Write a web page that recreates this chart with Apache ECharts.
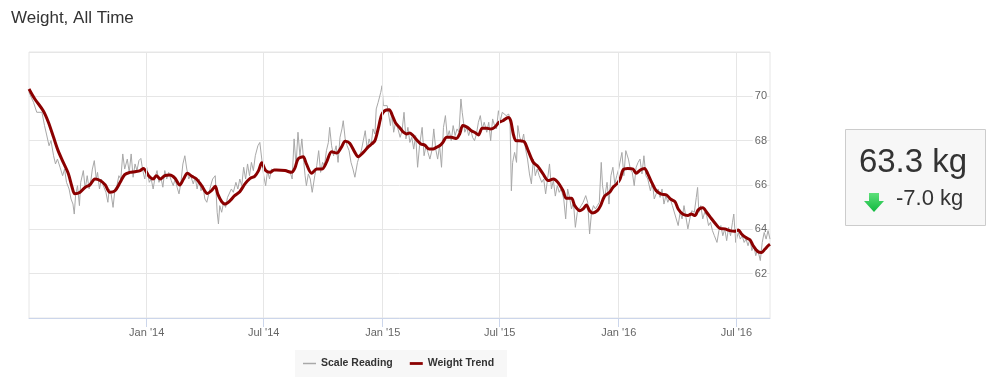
<!DOCTYPE html>
<html>
<head>
<meta charset="utf-8">
<script src="https://cdn.jsdelivr.net/npm/echarts@6/dist/echarts.min.js"></script>
<style>
html,body{margin:0;padding:0;background:#fff;}
#chart{width:998px;height:381px;}
</style>
</head>
<body>
<div id="chart"></div>
<script>
// Day offsets are counted from this date (UTC)
const startDate = '2013-07-01';

const trendDays = [2,11,24,32,40,47,55,63,68,73,81,89,96,104,112,120,127,135,143,150,158,166,174,179,187,194,199,205,212,220,228,235,241,247,254,261,269,278,284,290,294,300,305,313,320,328,336,344,351,357,362,368,375,381,385,398,408,413,418,426,431,439,447,455,462,470,478,485,491,498,506,511,519,527,532,537,542,547,552,559,564,569,576,581,586,591,596,601,608,614,621,627,632,637,642,648,655,663,668,673,680,686,691,697,703,710,716,722,729,735,743,747,751,755,760,768,774,782,789,797,805,813,820,828,833,841,846,854,859,864,869,874,881,886,892,900,905,911,916,921,928,936,941,948,954,959,965,972,980,988,994,1001,1006,1013,1021,1026,1032,1037,1044,1050,1057,1064,1070,1078,1086,1093,1099,1104,1110,1117,1122,1129,1135,1140,1145,1148];
const trendValues = [70.33,69.88,69.35,68.83,68.15,67.55,67.02,66.5,65.97,65.6,65.67,65.9,66.0,66.27,66.2,66.0,65.67,65.74,66.12,66.47,66.57,66.6,66.65,66.75,66.42,66.27,66.42,66.27,66.42,66.45,66.3,66.0,66.27,66.53,66.39,66.27,65.97,65.62,65.74,65.94,65.59,65.25,65.14,65.29,65.52,65.7,66.05,66.3,66.39,66.65,67.0,66.65,66.57,66.68,66.68,66.65,66.57,66.75,67.17,67.28,66.95,66.53,66.72,66.72,67.02,67.5,67.44,67.7,67.97,67.88,67.47,67.28,67.47,67.73,67.85,68.0,68.53,69.13,69.35,69.4,69.13,68.8,68.56,68.38,68.3,68.35,68.23,68.05,67.85,67.8,67.62,67.62,67.7,67.77,67.92,68.15,68.15,68.1,68.3,68.68,68.6,68.45,68.38,68.26,68.56,68.56,68.53,68.6,68.83,68.9,69.05,68.9,68.3,68.0,68.0,67.95,67.55,67.02,66.84,66.5,66.2,66.27,66.12,65.74,65.4,65.4,65.07,64.84,64.92,65.1,64.84,64.74,64.84,65.07,65.49,65.67,65.89,66.05,66.27,66.69,66.75,66.72,66.53,66.69,66.75,66.5,66.12,65.74,65.59,65.55,65.37,65.25,64.92,64.69,64.62,64.69,64.62,64.88,64.97,64.77,64.5,64.24,64.05,64.02,63.94,63.91,63.97,63.79,63.64,63.53,63.26,63.0,62.96,63.1,63.26,63.33];

const readingDays = [2,9,14,22,26,29,33,36,40,43,46,50,54,57,60,64,67,70,72,74,77,80,82,86,89,92,95,98,100,103,106,108,111,114,117,121,124,126,129,132,135,138,141,144,147,150,154,157,160,163,166,169,172,175,178,181,184,188,191,194,197,200,203,206,209,212,215,218,222,225,228,231,234,237,240,243,246,249,252,256,259,262,265,268,271,274,277,280,283,286,290,293,295,297,300,303,306,309,312,315,318,322,325,328,331,334,337,340,343,346,349,352,356,359,362,365,368,371,374,377,381,
385,398,406,409,412,415,418,421,424,427,429,431,434,437,440,444,447,450,453,456,459,462,465,467,470,473,477,480,483,486,488,491,494,497,500,503,506,510,513,516,519,522,525,528,531,534,537,539,542,546,548,550,553,556,559,561,563,566,569,572,576,579,582,585,588,591,594,597,600,603,606,610,613,616,619,622,625,628,631,634,637,640,643,646,649,652,655,658,661,664,667,670,672,676,679,682,685,688,691,694,697,700,703,706,710,713,716,719,722,725,728,731,734,737,740,744,746,748,750,753,756,
758,761,764,767,770,773,776,779,782,785,788,791,795,798,801,804,807,810,813,816,819,822,825,829,832,835,838,841,844,847,850,853,856,859,863,866,869,872,875,878,881,884,887,889,892,896,899,902,905,908,911,914,917,919,922,925,929,932,935,938,941,944,947,950,953,956,959,963,966,969,972,975,978,981,984,987,990,993,997,1000,1003,1006,1009,1012,1015,1018,1021,1024,1027,1031,1034,1036,1038,1041,1044,1047,1050,1053,1056,1059,1062,1066,1069,1072,1075,1078,1081,1084,1087,1090,1092,1095,1099,1102,1105,1108,1111,1114,1117,1120,1123,1126,1129,1133,1136,1139,1142,1145,1148];
const readingValues = [70.18,69.73,69.28,69.28,68.68,68.3,67.77,68.0,67.32,66.95,67.17,66.8,66.42,66.72,66.12,65.82,65.37,65.14,64.69,65.52,65.97,65.07,66.12,66.65,65.82,66.42,65.82,66.27,66.72,67.1,66.27,66.57,65.82,66.27,65.97,65.67,65.22,65.82,65.6,64.99,65.82,65.97,66.42,66.27,67.4,66.72,67.17,66.57,67.4,66.35,66.95,66.65,67.1,67.2,66.65,66.27,66.8,66.12,66.27,65.82,66.35,66.65,66.12,66.35,65.9,66.65,66.27,66.57,66.2,65.97,66.27,65.9,65.6,66.12,66.95,67.32,66.72,66.27,66.42,66.05,66.35,65.82,66.27,65.74,65.97,65.37,65.22,65.6,65.97,66.27,66.42,64.77,64.24,65.07,64.77,65.22,64.99,65.44,65.37,65.82,65.67,66.12,65.82,66.27,65.97,66.8,66.27,66.95,66.42,67.02,66.65,67.32,67.77,67.92,67.17,66.42,65.97,66.65,66.27,66.72,66.65,
66.65,66.65,66.57,66.27,68.08,66.87,68.38,67.32,68.08,67.02,66.42,65.97,66.5,66.27,65.67,66.42,66.87,67.55,66.57,67.02,66.87,67.55,67.92,68.6,67.77,67.32,67.77,67.02,68.15,68.53,68.9,68.08,67.77,67.55,67.02,66.72,66.35,67.02,67.32,67.55,68.0,68.45,67.62,68.08,67.77,68.53,68.3,69.43,69.73,70.18,70.48,69.58,69.65,69.58,69.58,68.68,69.28,68.38,68.83,68.6,68.15,68.45,69.28,68.08,68.6,67.92,68.15,67.62,68.23,66.8,67.77,68.6,67.32,67.77,67.47,67.17,67.55,68.53,67.62,67.17,67.77,66.8,68.6,69.13,68.15,68.45,68.0,68.68,68.23,68.53,68.38,69.88,69.28,68.38,68.6,68.23,68.53,68.15,68.0,68.3,68.83,69.13,68.53,68.83,68.38,68.83,68.0,68.98,68.68,68.53,69.35,68.9,69.28,69.28,69.13,69.2,68.83,65.74,67.02,67.47,67.02,
68.68,68.15,67.92,68.3,67.62,67.17,66.5,66.05,67.17,66.42,66.72,66.42,66.12,66.27,65.6,66.27,66.95,65.82,66.2,65.5,65.97,65.67,65.82,65.37,64.47,65.82,65.44,64.92,65.22,64.09,64.77,64.92,65.07,65.22,65.52,65.22,63.79,64.77,65.07,64.92,65.07,65.22,67.02,65.97,65.37,66.12,65.14,66.42,66.8,66.05,66.42,66.72,67.17,67.47,66.42,67.55,67.17,66.72,66.57,65.97,66.8,67.02,67.17,66.5,67.32,66.42,66.27,65.74,66.12,65.37,65.6,65.82,65.44,65.82,65.14,65.52,65.22,65.44,65.07,64.99,64.47,64.17,64.77,64.47,65.07,64.54,64.02,64.47,64.84,64.77,65.44,65.89,64.77,65.07,64.47,64.77,64.62,64.17,64.32,63.94,63.71,63.41,63.94,64.17,63.71,64.02,63.49,64.09,63.71,64.32,64.69,63.41,63.86,63.56,63.71,63.41,63.56,63.26,63.56,63.04,63.26,62.81,63.1,62.59,63.41,63.86,63.56,63.94,63.56];

const yAxisMin = 60, yAxisMax = 72, yAxisStep = 2;
const xTickDates = ['2014-01-01','2014-07-01','2015-01-01','2015-07-01','2016-01-01','2016-07-01'];
const xTickLabels = ["Jan '14","Jul '14","Jan '15","Jul '15","Jan '16","Jul '16"];
const seriesNames = ['Scale Reading', 'Weight Trend'];
const titleText = 'Weight, All Time';
const unit = 'kg';

const DAY = 86400000;
const t0 = Date.parse(startDate);
const toTime = d => t0 + d * DAY;
const readingData = readingDays.map((d, i) => [toTime(d), readingValues[i]]);
const trendData = trendDays.map((d, i) => [toTime(d), trendValues[i]]);
const tickTimes = xTickDates.map(s => Date.parse(s));
const labelFor = v => {
  const i = tickTimes.findIndex(t => Math.abs(t - v) < DAY / 2);
  return i >= 0 ? xTickLabels[i] : '';
};

const latest = trendValues[trendValues.length - 1];
const change = latest - trendValues[0];
const latestText = latest.toFixed(1) + ' ' + unit;
const changeText = (change >= 0 ? '+' : '') + change.toFixed(1) + ' ' + unit;

const FONT = 'Arial, "Liberation Sans", Helvetica, sans-serif';

const chart = echarts.init(document.getElementById('chart'), null, {renderer: 'canvas'});
chart.setOption({
  animation: false,
  backgroundColor: '#ffffff',
  title: {
    text: titleText, left: 6, top: 5,
    textStyle: {fontFamily: FONT, fontSize: 17, fontWeight: 'normal', color: '#333333'}
  },
  legend: {
    left: 295, top: 350,
    backgroundColor: '#f7f7f7',
    padding: [8, 13, 8, 8],
    itemWidth: 13, itemHeight: 10, itemGap: 17,
    textStyle: {fontFamily: FONT, fontSize: 10.5, fontWeight: 'bold', color: '#333333'},
    data: [
      {name: seriesNames[0], icon: 'path://M0,0H13V1.5H0Z', symbolKeepAspect: true},
      {name: seriesNames[1], icon: 'path://M0,0H14V3H0Z', symbolKeepAspect: true}
    ]
  },
  grid: {left: 29, right: 228, top: 52, bottom: 63, show: true, borderColor: '#e6e6e6', borderWidth: 1, containLabel: false},
  xAxis: {
    type: 'value',
    min: toTime(readingDays[0]),
    max: toTime(readingDays[readingDays.length - 1]),
    axisLine: {show: true, lineStyle: {color: '#ccd6eb', width: 1}},
    axisTick: {show: true, length: 9, lineStyle: {color: '#ccd6eb'}, customValues: tickTimes},
    axisLabel: {
      customValues: tickTimes, margin: 9,
      fontFamily: FONT, fontSize: 11, color: '#666666',
      formatter: v => labelFor(v)
    },
    splitLine: {show: false}
  },
  yAxis: {
    type: 'value', position: 'right',
    min: yAxisMin, max: yAxisMax, interval: yAxisStep,
    axisLine: {show: false}, axisTick: {show: false},
    axisLabel: {inside: true, margin: 3, showMinLabel: false, showMaxLabel: false,
      fontFamily: FONT, fontSize: 11, color: '#666666',
      backgroundColor: '#ffffff', padding: [3, 0, 0, 2]},
    splitLine: {show: true, lineStyle: {color: '#e6e6e6', width: 1}}
  },
  series: [
    {
      name: seriesNames[0], type: 'line', data: readingData,
      symbol: 'none', smooth: false, z: 2,
      lineStyle: {color: '#a8a8a8', width: 1}, itemStyle: {color: '#a8a8a8'},
      markLine: {
        silent: true, symbol: 'none', label: {show: false},
        lineStyle: {color: '#e6e6e6', width: 1, type: 'solid'},
        data: tickTimes.map(t => ({xAxis: t}))
      }
    },
    {
      name: seriesNames[1], type: 'line', data: trendData,
      symbol: 'none', smooth: 0.3, z: 3,
      lineStyle: {color: '#8b0000', width: 3}, itemStyle: {color: '#8b0000'}
    }
  ],
  graphic: [
    {type: 'rect', shape: {x: 845.5, y: 129.5, width: 140, height: 96}, style: {fill: '#f7f7f7', stroke: '#cccccc', lineWidth: 1}},
    {type: 'text', x: 913, y: 163, style: {text: latestText, fontFamily: FONT, fontSize: 33, fill: '#333333', align: 'center', verticalAlign: 'middle'}},
    {type: 'polygon', shape: {points: [[869,193],[879,193],[879,201],[884,201],[874,212],[864,201],[869,201]]},
      style: {fill: new echarts.graphic.LinearGradient(0, 0, 0, 1, [{offset: 0, color: '#5ee07a'}, {offset: 1, color: '#0fb83e'}])}},
    {type: 'text', x: 896, y: 199, style: {text: changeText, fontFamily: FONT, fontSize: 22, fill: '#333333', align: 'left', verticalAlign: 'middle'}}
  ]
});
</script>
</body>
</html>
